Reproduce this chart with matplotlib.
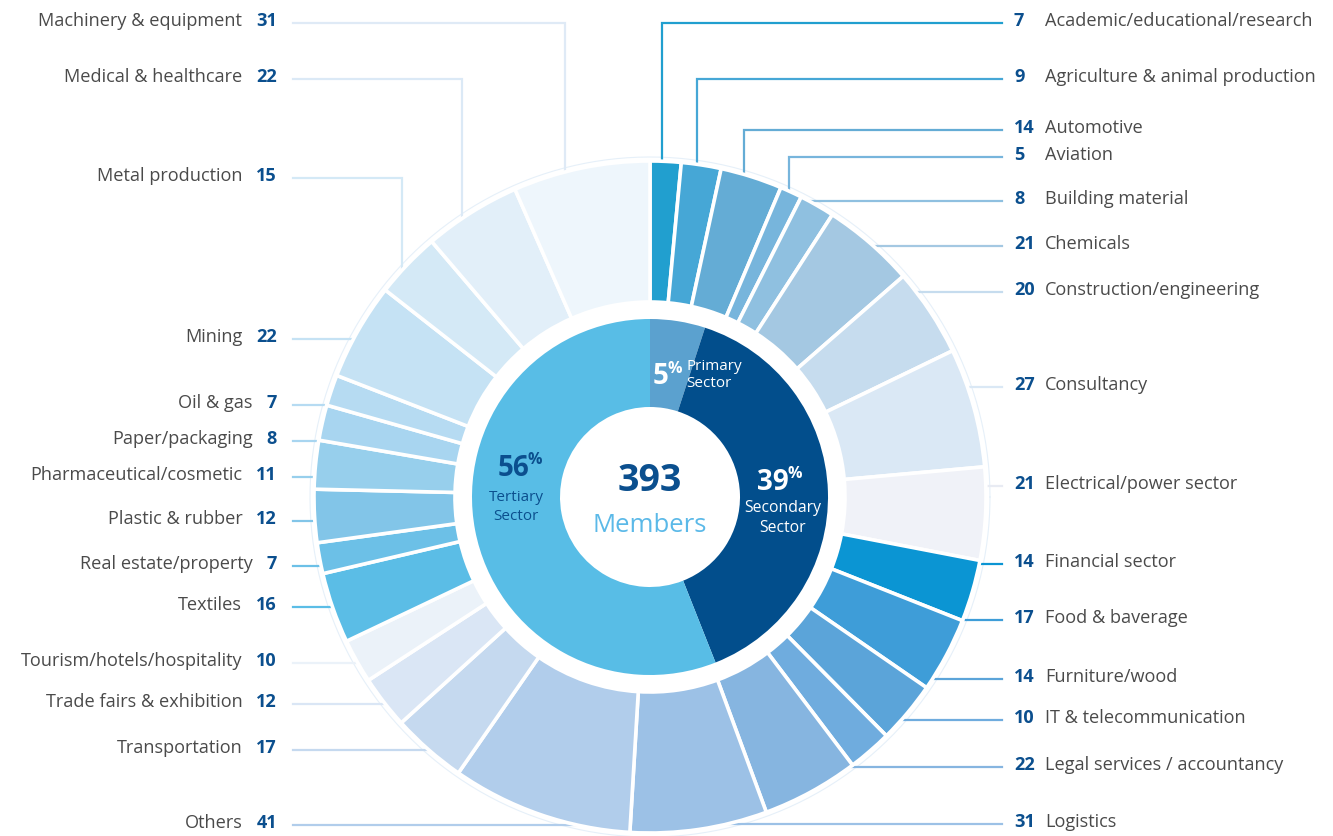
import matplotlib
matplotlib.use("Agg")
import matplotlib.pyplot as plt
import numpy as np

# ---------------- data ----------------
categories = [
    "Academic/educational/research", "Agriculture & animal production", "Automotive",
    "Aviation", "Building material", "Chemicals", "Construction/engineering",
    "Consultancy", "Electrical/power sector", "Financial sector", "Food & baverage",
    "Furniture/wood", "IT & telecommunication", "Legal services / accountancy",
    "Logistics", "Others", "Transportation", "Trade fairs & exhibition",
    "Tourism/hotels/hospitality", "Textiles", "Real estate/property",
    "Plastic & rubber", "Pharmaceutical/cosmetic", "Paper/packaging", "Oil & gas",
    "Mining", "Metal production", "Medical & healthcare", "Machinery & equipment",
]
values = [7, 9, 14, 5, 8, 21, 20, 27, 21, 14, 17, 14, 10, 22, 31,
          41, 17, 12, 10, 16, 7, 12, 11, 8, 7, 22, 15, 22, 31]

sectors = ["Primary\nSector", "Secondary\nSector", "Tertiary\nSector"]
sector_pct = [5, 39, 56]
total_members = 393
center_word = "Members"

# ---------------- style ----------------
wedge_colors = [
    "#219fcf", "#46a7d6", "#64acd5", "#77b5dc", "#8fc0e0", "#a4c8e2", "#c6dcee",
    "#dae8f5", "#f0f2f8", "#0b95d3", "#3e9dd8", "#5ba4d9", "#6facde", "#86b5e0",
    "#9cc1e6", "#b1cdeb", "#c5d9ef", "#dae6f5", "#ebf2f9", "#5bbde6", "#6cc0e7",
    "#82c5e8", "#97cfec", "#a8d5f0", "#b6dbf2", "#c5e2f4", "#d4e9f6", "#e2eff9",
    "#eef6fc",
]
line_colors = list(wedge_colors)
line_colors[8] = "#e8ebf3"
line_colors[27] = "#dbe9f6"
line_colors[28] = "#dfeaf6"
sector_colors = ["#5ba1cf", "#024e8c", "#58bde6"]
DARK = "#0b4f8e"
GREY = "#4a4a4a"
LIGHT = "#5bb9e8"

# layout (image pixel coordinates, y downward)
W, H = 1333, 836
CX, CY = 650, 497
R_OUT, R_IN = 336, 195
R2_OUT, R2_IN = 178, 90
label_y = [21, 77, 128, 155, 199, 244, 290, 385, 484, 562, 618, 677, 718, 765, 822,
           823, 748, 702, 661, 605, 564, 519, 475, 439, 403, 337, 176, 77, 21]
elbow = [True, True, True, True] + [False] * 22 + [True, True, True]
elbow_frac = 0.38
n_right = 15

plt.rcParams['font.family'] = ['Open Sans', 'DejaVu Sans']

fig = plt.figure(figsize=(W / 100, H / 100), dpi=100)
ax = fig.add_axes([0, 0, 1, 1])


def Y(y):
    return H - y


# outer ring
ax.pie(values, radius=R_OUT, center=(CX, Y(CY)), startangle=90, counterclock=False,
       colors=wedge_colors,
       wedgeprops=dict(width=R_OUT - R_IN, edgecolor="white", linewidth=2.6, zorder=2))
# inner ring
ax.pie(sector_pct, radius=R2_OUT, center=(CX, Y(CY)), startangle=90, counterclock=False,
       colors=sector_colors,
       wedgeprops=dict(width=R2_OUT - R2_IN, edgecolor="none", linewidth=0, zorder=2))
# faint outer circle
t = np.linspace(0, 2 * np.pi, 400)
ax.plot(CX + (R_OUT + 4) * np.cos(t), Y(CY) + (R_OUT + 4) * np.sin(t),
        color="#e6f0f9", lw=0.8, zorder=1)

ax.set_xlim(0, W)
ax.set_ylim(0, H)
ax.set_aspect("equal")
ax.axis("off")

# leader lines and labels
vals = np.array(values, dtype=float)
cum = np.concatenate([[0], np.cumsum(vals)]) / vals.sum() * 360.0
anchor = np.radians(cum[:-1] + elbow_frac * (cum[1:] - cum[:-1]))

renderer = fig.canvas.get_renderer()
FS = 13.1
for i, (cat, v) in enumerate(zip(categories, values)):
    ly = label_y[i]
    lline = ly + 2
    right = i < n_right
    if elbow[i]:
        xv = CX + R_OUT * np.sin(anchor[i])
        yv = CY - np.sqrt(max(R_OUT ** 2 - (xv - CX) ** 2, 0)) + 4
        xs = 1002 if right else 293
        ax.plot([xs, xv, xv], [Y(lline), Y(lline), Y(yv)], color=line_colors[i],
                lw=1.6, zorder=1, solid_joinstyle="miter")
    else:
        dy = lline - CY
        dx = np.sqrt(max(R_OUT ** 2 - dy ** 2, 0)) - 4
        if right:
            ax.plot([1002, CX + dx], [Y(lline), Y(lline)], color=line_colors[i], lw=1.6, zorder=1)
        else:
            ax.plot([293, CX - dx], [Y(lline), Y(lline)], color=line_colors[i], lw=1.6, zorder=1)
    if right:
        ax.text(1014, Y(ly), str(v), ha="left", va="center", fontsize=FS,
                fontweight="bold", color=DARK)
        ax.text(1045, Y(ly), cat, ha="left", va="center", fontsize=FS, color=GREY)
    else:
        tn = ax.text(277, Y(ly), str(v), ha="right", va="center", fontsize=FS,
                     fontweight="bold", color=DARK)
        wn = tn.get_window_extent(renderer).width
        ax.text(277 - wn - 14, Y(ly), cat, ha="right", va="center", fontsize=FS,
                color=GREY)

# center text
ax.text(CX, Y(481), str(total_members), ha="center", va="center", fontsize=27,
        fontweight="bold", color=DARK)
ax.text(CX, Y(525), center_word, ha="center", va="center", fontsize=18.5, color=LIGHT)

# sector labels
# primary
ax.text(668, Y(377), f"{sector_pct[0]}", ha="right", va="center", fontsize=20,
        fontweight="bold", color="white")
ax.text(667, Y(369), "%", ha="left", va="center", fontsize=11.5, fontweight="bold",
        color="white")
ax.text(686, Y(375), sectors[0], ha="left", va="center", fontsize=11, color="white",
        linespacing=1.1)
# secondary
ax.text(789, Y(482), f"{sector_pct[1]}", ha="right", va="center", fontsize=20,
        fontweight="bold", color="white")
ax.text(788, Y(474), "%", ha="left", va="center", fontsize=11.5, fontweight="bold",
        color="white")
ax.text(783, Y(518), sectors[1], ha="center", va="center", fontsize=11.3, color="white",
        linespacing=1.3)
# tertiary
ax.text(529, Y(468), f"{sector_pct[2]}", ha="right", va="center", fontsize=20,
        fontweight="bold", color=DARK)
ax.text(528, Y(460), "%", ha="left", va="center", fontsize=11.5, fontweight="bold",
        color=DARK)
ax.text(516, Y(507), sectors[2], ha="center", va="center", fontsize=11, color=DARK,
        linespacing=1.3)

fig.savefig("out.png", dpi=100)
